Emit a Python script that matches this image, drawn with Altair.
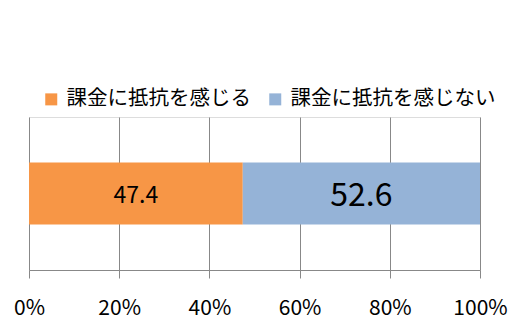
import altair as alt
import pandas as pd

categories = ["課金に抵抗を感じる", "課金に抵抗を感じない"]
values = [47.4, 52.6]
order = [0, 1]
colors = ["#F79646", "#95B3D7"]
tick_values = [0, 20, 40, 60, 80, 100]

df = pd.DataFrame({"cat": categories, "value": values, "order": order, "row": ["a", "a"]})

FONT = "Noto Sans CJK JP"

base = alt.Chart(df).transform_stack(
    stack="value", groupby=["row"], as_=["v0", "v1"], sort=[alt.SortField("order", "ascending")]
).transform_calculate(mid="(datum.v0 + datum.v1) / 2")

xscale = alt.Scale(domain=[0, 100], nice=False, zero=True)

bars = base.mark_bar(size=62).encode(
    x=alt.X("v0:Q", scale=xscale, axis=alt.Axis(
        values=tick_values, labelExpr="datum.value + '%'", title=None,
        grid=True, gridColor="#888888", gridWidth=1,
        domainColor="#888888", tickColor="#888888", tickSize=8,
        labelFont=FONT, labelFontSize=21, labelColor="#000000", labelPadding=19,
        labelFlush=False, labelOverlap=False,
    )),
    x2="v1:Q",
    y=alt.Y("row:N", axis=None),
    color=alt.Color("cat:N", scale=alt.Scale(domain=categories, range=colors),
                    sort=categories,
                    legend=alt.Legend(
                        title=None, orient="none", direction="horizontal",
                        legendX=12, legendY=-28,
                        symbolType="square", symbolSize=144, symbolStrokeWidth=0,
                        symbolOpacity=1,
                        labelFont=FONT, labelFontSize=20.5, labelColor="#000000",
                        columnPadding=14, labelOffset=5, labelLimit=300,
                    )),
)

txt_small = base.transform_filter(alt.datum.order == 0).mark_text(
    font=FONT, fontSize=23, color="#000000", baseline="middle", align="center", dy=2
).encode(x=alt.X("mid:Q", scale=xscale), y=alt.Y("row:N", axis=None), text=alt.Text("value:Q", format=".1f"))

txt_big = base.transform_filter(alt.datum.order == 1).mark_text(
    font=FONT, fontSize=32, color="#000000", baseline="middle", align="center", dy=2
).encode(x=alt.X("mid:Q", scale=xscale), y=alt.Y("row:N", axis=None), text=alt.Text("value:Q", format=".1f"))

chart = alt.layer(bars, txt_small, txt_big).properties(
    width=451, height=153,
    autosize=alt.AutoSizeParams(type="none"),
    padding={"left": 29, "top": 117, "right": 48, "bottom": 55},
).configure_view(stroke=None).configure(background="#ffffff")

chart.save("out.html", embed_options={"renderer": "svg", "actions": False})
